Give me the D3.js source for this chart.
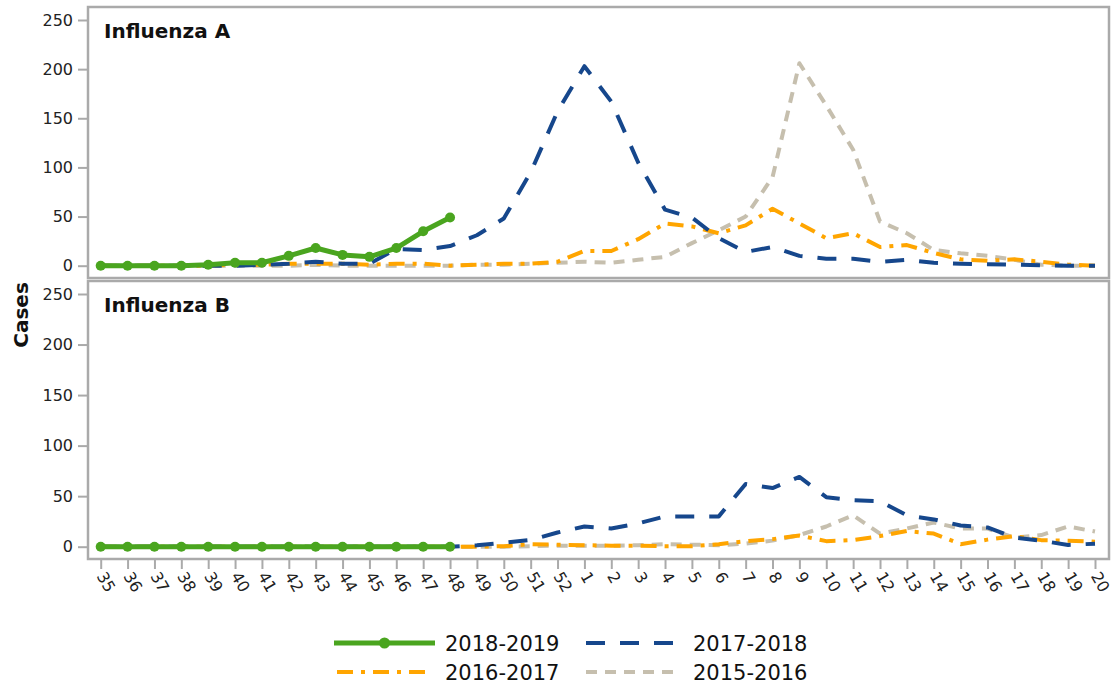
<!DOCTYPE html>
<html><head><meta charset="utf-8">
<script src="https://cdn.jsdelivr.net/npm/d3@7"></script>
<style>body{margin:0;background:#fff}svg{display:block}text{font-family:"DejaVu Sans",sans-serif}</style>
</head><body><svg id="c" width="1116" height="687"></svg>
<script>
const weeks = ["35","36","37","38","39","40","41","42","43","44","45","46","47","48","49","50","51","52",
  "1","2","3","4","5","6","7","8","9","10","11","12","13","14","15","16","17","18","19","20"];
const yTicks = [0,50,100,150,200,250];
const seriesNames = ["2018-2019","2017-2018","2016-2017","2015-2016"];

// Influenza A
const fluA_2018 = [0,0,0,0,1,3,3,10,18,11,9,18,35,49];
const fluA_2017 = [0,0,0,0,0,0,1,2,4,2,2,17,16,20,31,48,95,157,
  203,167,105,57,49,28,14,19,10,7,7,4,6,3,2,1.5,1,0.5,0,0];
const fluA_2016 = [0,0,0,0,0,1,1,2,2,2,1,2,2,0,1,2,2,4,
  15,15,27,43,40,33,41,58,43,28,33,19,21,13,6.5,5,6.5,4,1,0];
const fluA_2015 = [0,0,0,0,0,0,0,0,1,0,0,0,0,0,1,1,2,3,
  4,3,6,9,23,36,50,90,206,163,118,45,33,16,12.6,10,6,1,0,0];
// Influenza B
const fluB_2018 = [0,0,0,0,0,0,0,0,0,0,0,0,0,0];
const fluB_2017 = [0,0,0,0,0,0,0,0,0,0,0,0,0,0,1.4,4,6.6,14,
  20,18,23,30,30,30,62,58,69,49,46,45,31,27,21,19,9,6,1.7,3];
const fluB_2016 = [0,0,0,0,0,0,0,0,0,0,0,0,0,0,0,0.5,2.5,2,
  1.5,1,1,0.5,0.5,2.5,5.5,7.5,11,5.5,6.5,10.5,15.5,13,2.5,7,10.5,6.5,6,5];
const fluB_2015 = [0,0,0,0,0,0,0,0,0,0,0,0,0,0,0,0,0.5,1,
  1,1,1.5,2.5,2,1.5,3,6,11.5,20,31,13,18,24,18,18,9,11.5,20,15];

const styles = {
  "2018-2019": {color:"#4aa51f", width:5, dash:null, marker:true},
  "2017-2018": {color:"#16478c", width:4, dash:"19,15"},
  "2016-2017": {color:"#ffa500", width:4, dash:"16,8,4,8"},
  "2015-2016": {color:"#c6bfae", width:4, dash:"11,8"}
};

const svg = d3.select("#c");
const x = d3.scalePoint().domain(weeks).range([100.7, 1095]);
const frameL = 88, frameR = 1109;
const panels = [
  {title:"Influenza A", top:7, bottom:278, y:d3.scaleLinear().domain([0,250]).range([265.7,20]),
   data:{"2015-2016":fluA_2015,"2016-2017":fluA_2016,"2017-2018":fluA_2017,"2018-2019":fluA_2018}},
  {title:"Influenza B", top:281, bottom:559, y:d3.scaleLinear().domain([0,250]).range([546.7,294]),
   data:{"2015-2016":fluB_2015,"2016-2017":fluB_2016,"2017-2018":fluB_2017,"2018-2019":fluB_2018}}
];
const drawOrder = ["2015-2016","2016-2017","2017-2018","2018-2019"];

panels.forEach(p => {
  const g = svg.append("g");
  g.append("rect").attr("x",frameL).attr("y",p.top).attr("width",frameR-frameL).attr("height",p.bottom-p.top)
    .attr("fill","#fff").attr("stroke","#aaaaaa").attr("stroke-width",2.5);
  const ax = g.append("g").attr("transform",`translate(${frameL},0)`)
    .call(d3.axisLeft(p.y).tickValues(yTicks).tickSize(10).tickPadding(5));
  ax.select(".domain").remove();
  ax.selectAll(".tick line").attr("stroke","#aaaaaa").attr("stroke-width",2);
  ax.selectAll(".tick text").attr("font-size",16).attr("fill","#222").style("font-family","DejaVu Sans");
  g.append("text").attr("x",104).attr("y",p.top+31).attr("font-size",20).attr("font-weight","bold")
    .attr("fill","#111").text(p.title);
  drawOrder.forEach(name => {
    const s = styles[name];
    const vals = p.data[name];
    const pts = vals.map((v,i)=>[weeks[i],v]);
    const line = d3.line().x(d=>x(d[0])).y(d=>p.y(d[1]));
    g.append("path").datum(pts).attr("d",line).attr("fill","none").attr("stroke",s.color)
      .attr("stroke-width",s.width).attr("stroke-dasharray",s.dash).attr("stroke-linejoin","round");
    if (s.marker) {
      g.selectAll(null).data(pts).enter().append("circle")
        .attr("cx",d=>x(d[0])).attr("cy",d=>p.y(d[1])).attr("r",5).attr("fill",s.color);
    }
  });
});

// x axis
const xa = svg.append("g").attr("transform","translate(0,560)").call(d3.axisBottom(x).tickSize(9).tickPadding(6));
xa.select(".domain").remove();
xa.selectAll(".tick line").attr("stroke","#aaaaaa").attr("stroke-width",2);
xa.selectAll(".tick text").attr("font-size",16).attr("fill","#222").style("font-family","DejaVu Sans")
  .attr("text-anchor","start").attr("dy",0).attr("y",0)
  .attr("transform","translate(-5,16) rotate(60)");

// y label
svg.append("text").attr("transform","translate(28,315) rotate(-90)").attr("text-anchor","middle")
  .attr("font-size",20).attr("font-weight","bold").attr("fill","#111").text("Cases");

// legend
const legendItems = [
  {name:"2018-2019", x1:334, x2:435, tx:445, y:643},
  {name:"2017-2018", x1:586, x2:680, tx:693, y:643},
  {name:"2016-2017", x1:337, x2:425, tx:445, y:672},
  {name:"2015-2016", x1:586, x2:680, tx:693, y:672}
];
const lg = svg.append("g");
legendItems.forEach(it => {
  const s = styles[it.name];
  lg.append("line").attr("x1",it.x1).attr("x2",it.x2).attr("y1",it.y).attr("y2",it.y)
    .attr("stroke",s.color).attr("stroke-width",s.width).attr("stroke-dasharray",s.dash);
  if (s.marker) lg.append("circle").attr("cx",(it.x1+it.x2)/2).attr("cy",it.y).attr("r",5.5).attr("fill",s.color);
  lg.append("text").attr("x",it.tx).attr("y",it.y).attr("dy","0.36em").attr("font-size",21)
    .attr("fill","#111").text(it.name);
});
</script></body></html>
